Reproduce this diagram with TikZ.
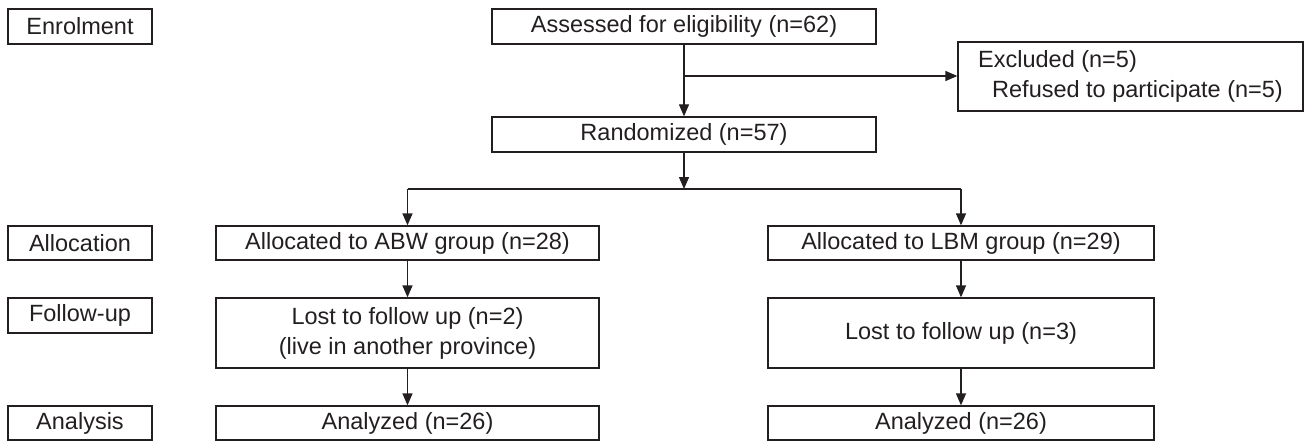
\documentclass[tikz,border=0pt]{standalone}
\usepackage{fontspec}
\setmainfont{Liberation Sans}
\usetikzlibrary{arrows.meta}
\definecolor{ink}{HTML}{231F20}
\begin{document}
\begin{tikzpicture}[x=1pt,y=-1pt,
  every node/.style={font=\fontsize{23.5}{30}\selectfont, text=ink},
  box/.style={draw=ink, line width=1.3pt, inner sep=0pt, anchor=center, align=center},
  conn/.style={draw=ink, line width=1.3pt},
  arr/.style={conn, -{Triangle[length=12pt,width=10pt]}}]
\useasboundingbox (0,0) rectangle (1309,441);
% stage labels
\node[box, minimum width=144pt, minimum height=35pt] (enrol) at (80,26.5) {Enrolment};
\node[box, minimum width=144pt, minimum height=34pt] (alloc) at (80,243) {Allocation};
\node[box, minimum width=144pt, minimum height=35pt] (follow) at (80,315.5) {Follow-up};
\node[box, minimum width=144pt, minimum height=34pt] (analysis) at (80,423) {Analysis};
% top
\node[box, minimum width=384pt, minimum height=35pt] (assess) at (684,26.5) {Assessed for eligibility (n=62)};
\node[box, minimum width=384pt, minimum height=35pt] (rand) at (684,134.5) {Randomized (n=57)};
\node[box, minimum width=345pt, minimum height=69pt, align=left] (excl) at (1130.5,76.5)
  {Excluded (n=5)\\\hspace*{14pt}Refused to participate (n=5)};
% left column
\node[box, minimum width=383pt, minimum height=70pt] (lostL) at (407.5,333) {Lost to follow up (n=2)\\(live in another province)};
\node[box, minimum width=383pt, minimum height=34pt] (abw) at (407.5,243) {Allocated to ABW group (n=28)};
\node[box, minimum width=383pt, minimum height=34pt] (anaL) at (407.5,423) {Analyzed (n=26)};
% right column
\node[box, minimum width=386pt, minimum height=34pt] (lbm) at (961,243) {Allocated to LBM group (n=29)};
\node[box, minimum width=386pt, minimum height=70pt] (lostR) at (961,333) {Lost to follow up (n=3)};
\node[box, minimum width=386pt, minimum height=34pt] (anaR) at (961,423) {Analyzed (n=26)};
% connectors
\coordinate (br) at (684,76);
\coordinate (split) at (684,189);
\coordinate (splitL) at (407.5,189);
\coordinate (splitR) at (961,189);
\draw[arr] (assess.south) -- (rand.north);
\draw[arr] (br) -- (excl.west |- br);
\draw[arr] (rand.south) -- (split);
\draw[conn] (splitL) -- (splitR);
\draw[arr] (splitL) -- (abw.north);
\draw[arr] (splitR) -- (lbm.north);
\draw[arr] (abw.south) -- (lostL.north);
\draw[arr] (lostL.south) -- (anaL.north);
\draw[arr] (lbm.south) -- (lostR.north);
\draw[arr] (lostR.south) -- (anaR.north);
\end{tikzpicture}
\end{document}
